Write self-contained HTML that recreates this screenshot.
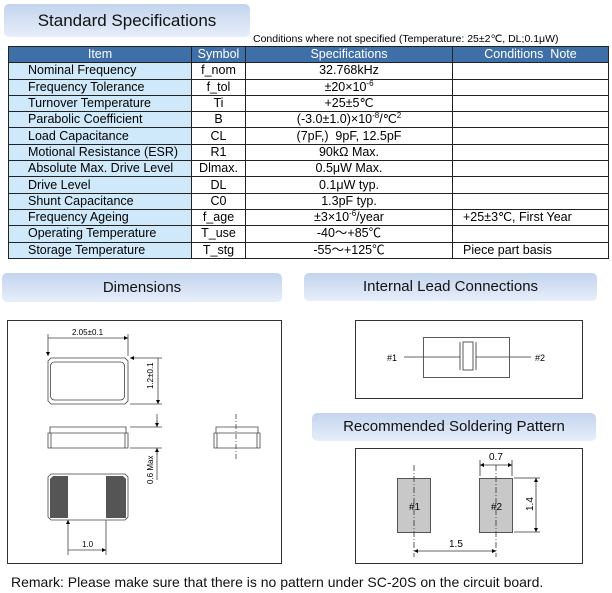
<!DOCTYPE html>
<html><head><meta charset="utf-8"><style>
body{margin:0;width:612px;height:593px;background:#fff;position:relative;overflow:hidden;font-family:"Liberation Sans",Arial,sans-serif;}
.hdr{position:absolute;border-radius:5px;background:linear-gradient(#c4d4ee,#e6eefa);color:#111;text-align:center;}
table{position:absolute;left:8px;top:46px;border-collapse:collapse;font-size:12.5px;}
td{border:1px solid #222;height:15.3px;padding:0;line-height:15px;text-align:center;white-space:nowrap;}
tr.h td{background:#3f6fa8;color:#fff;}
td.i{background:#cfe9fb;text-align:left;padding-left:19px;}
td.c{text-align:left;padding-left:10px;}
sup{font-size:8px;line-height:0;}
</style></head><body>
<div class="hdr" style="left:4px;top:4px;width:246px;height:33px;line-height:33px;font-size:17px;">Standard Specifications</div>
<div style="position:absolute;left:253px;top:33px;font-size:10.5px;">Conditions where not specified (Temperature: 25±2℃, DL;0.1μW)</div>
<table>
<tr class="h"><td style="width:182px">Item</td><td style="width:53px">Symbol</td><td style="width:206px">Specifications</td><td style="width:155px">Conditions&nbsp; Note</td></tr>
<tr><td class="i">Nominal Frequency</td><td>f_nom</td><td>32.768kHz</td><td></td></tr>
<tr><td class="i">Frequency Tolerance</td><td>f_tol</td><td>±20×10<sup>-6</sup></td><td></td></tr>
<tr><td class="i">Turnover Temperature</td><td>Ti</td><td>+25±5℃</td><td></td></tr>
<tr><td class="i">Parabolic Coefficient</td><td>B</td><td>(-3.0±1.0)×10<sup>-8</sup>/℃<sup>2</sup></td><td></td></tr>
<tr><td class="i">Load Capacitance</td><td>CL</td><td>(7pF,)&nbsp; 9pF, 12.5pF</td><td></td></tr>
<tr><td class="i">Motional Resistance (ESR)</td><td>R1</td><td>90kΩ Max.</td><td></td></tr>
<tr><td class="i">Absolute Max. Drive Level</td><td>Dlmax.</td><td>0.5μW Max.</td><td></td></tr>
<tr><td class="i">Drive Level</td><td>DL</td><td>0.1μW typ.</td><td></td></tr>
<tr><td class="i">Shunt Capacitance</td><td>C0</td><td>1.3pF typ.</td><td></td></tr>
<tr><td class="i">Frequency Ageing</td><td>f_age</td><td>±3×10<sup>-6</sup>/year</td><td class="c">+25±3℃, First Year</td></tr>
<tr><td class="i">Operating Temperature</td><td>T_use</td><td>-40～+85℃</td><td></td></tr>
<tr><td class="i">Storage Temperature</td><td>T_stg</td><td>-55～+125℃</td><td class="c">Piece part basis</td></tr>
</table>
<div class="hdr" style="left:2px;top:273px;width:280px;height:29px;line-height:29px;font-size:15px;">Dimensions</div>
<div class="hdr" style="left:304px;top:273px;width:293px;height:28px;line-height:28px;font-size:15px;">Internal Lead Connections</div>
<div class="hdr" style="left:312px;top:413px;width:284px;height:28px;line-height:28px;font-size:15px;">Recommended Soldering Pattern</div>
<svg style="position:absolute;left:0;top:0" width="612" height="593" font-family="Liberation Sans Narrow, Liberation Sans, sans-serif">
<defs><marker id="a" markerWidth="6" markerHeight="6" refX="5" refY="3" orient="auto-start-reverse"><path d="M0,0.5 L5,3 L0,5.5z" fill="#000"/></marker></defs>
<g fill="none" stroke="#333" stroke-width="1">
<rect x="7.5" y="320.5" width="274" height="243"/>
<rect x="355.5" y="320.5" width="227" height="78"/>
<rect x="355.5" y="448.5" width="227" height="115"/>
</g>
<g fill="none" stroke="#444" stroke-width="0.8">
<path d="M51,358 H125 L128,361 V401 L125,404 H51 L48,401 V361 Z"/>
<rect x="50.5" y="362" width="74" height="38" rx="4"/>
<path d="M48,356 V334 M128,356 V334 M48,338 H128" marker-start="url(#a)" marker-end="url(#a)"/>
<path d="M130,358 H162 M130,404 H162 M158,358 V404" marker-start="url(#a)" marker-end="url(#a)"/>
<path d="M50,427 H126 V433 H50 Z M48,433 H128 V448 H48 Z M51,433 V448 M125,433 V448"/>
<path d="M130,427 H162 M130,448 H162 M157,414 V427 M157,448 V480"/>
<path d="M157,420 V427" marker-end="url(#a)"/><path d="M157,455 V448" marker-end="url(#a)"/>
<path d="M216,427 H258 V433 H216 Z M214,433 H260 V448 H214 Z M217,433 V448 M257,433 V448"/>
<path d="M236,414 V460" stroke-dasharray="5,2,1,2"/>
<path d="M51,474 H125 L128,477 V517 L125,520 H51 L48,517 V477 Z"/>
<path d="M68,520 V555 M106,520 V555 M68,550 H106" marker-start="url(#a)" marker-end="url(#a)"/>
</g>
<path d="M50,479 L53,476 H68 V518 H50 Z" fill="#555"/>
<path d="M106,476 H123 L126,479 V518 H106 Z" fill="#555"/>
<g font-size="8" fill="#000">
<text x="72" y="335">2.05±0.1</text>
<text transform="translate(153,389) rotate(-90)">1.2±0.1</text>
<text transform="translate(153,484) rotate(-90)">0.6 Max</text>
<text x="82" y="547">1.0</text>
</g>
<g fill="none" stroke="#333" stroke-width="0.8">
<rect x="423.5" y="337.5" width="86" height="40"/>
<path d="M404,357 H460 M476,357 H531 M460,342 V370 M476,342 V370"/>
<rect x="463" y="342" width="10" height="28"/>
</g>
<g font-size="9" fill="#000"><text x="387" y="361">#1</text><text x="535" y="361">#2</text></g>
<rect x="397.5" y="478.5" width="33" height="54" fill="#c8c8c8" stroke="#555"/>
<rect x="479.5" y="478.5" width="33" height="54" fill="#c8c8c8" stroke="#555"/>
<g fill="none" stroke="#333" stroke-width="0.8">
<path d="M414,465 V557 M496,465 V557" stroke-dasharray="6,2,1,2"/>
<path d="M480,460 V476 M512,460 V476 M514,478 H540 M514,532 H540"/>
<path d="M480,465 H512" marker-start="url(#a)" marker-end="url(#a)"/>
<path d="M536,478 V532" marker-start="url(#a)" marker-end="url(#a)"/>
<path d="M414,551 H496" marker-start="url(#a)" marker-end="url(#a)"/>
</g>
<g font-size="10" fill="#000">
<text x="409" y="510">#1</text><text x="491" y="510">#2</text>
<text x="489" y="460">0.7</text><text x="449" y="547">1.5</text>
<text transform="translate(533,511) rotate(-90)">1.4</text>
</g>
</svg>
<div style="position:absolute;left:11px;top:574px;font-size:14px;color:#111;">Remark: Please make sure that there is no pattern under SC-20S on the circuit board.</div>
</body></html>
